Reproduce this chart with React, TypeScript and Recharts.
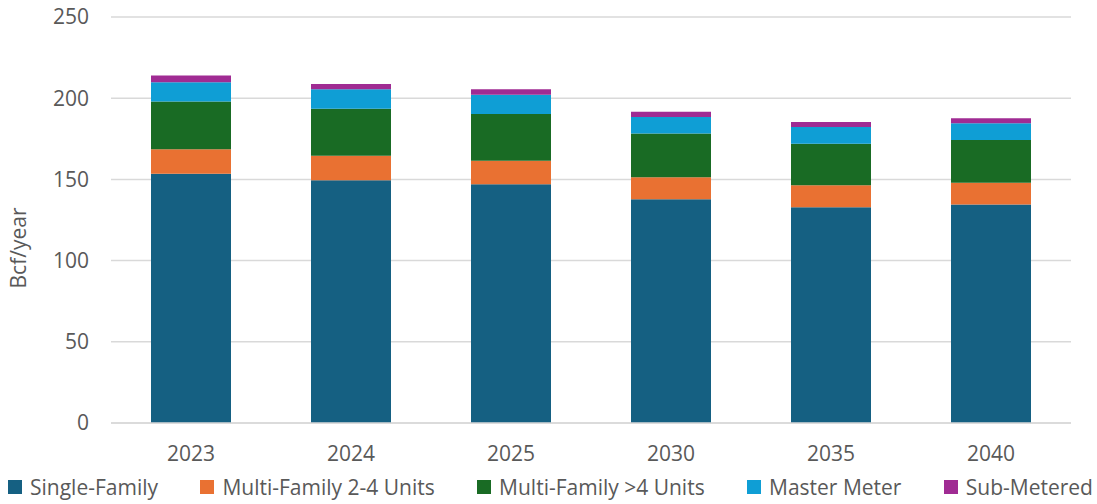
import { BarChart, Bar, XAxis, YAxis, CartesianGrid, Legend } from "recharts";

const YEARS = ["2023", "2024", "2025", "2030", "2035", "2040"];
const SINGLE_FAMILY = [153.5, 149.5, 147, 137.8, 132.8, 134.5];
const MULTI_2_4 = [15, 15, 14.5, 13.5, 13.6, 13.5];
const MULTI_4_PLUS = [29.5, 29, 28.7, 27, 25.5, 26.3];
const MASTER_METER = [11.8, 12, 12, 10.2, 10.3, 10.2];
const SUB_METERED = [4.2, 3.2, 3.3, 3.2, 3.1, 3.1];
const Y_TICKS = [0, 50, 100, 150, 200, 250];

const SERIES = [
  { key: "sf", name: "Single-Family", color: "#156082" },
  { key: "mf24", name: "Multi-Family 2-4 Units", color: "#E97132" },
  { key: "mf4", name: "Multi-Family >4 Units", color: "#196B24" },
  { key: "mm", name: "Master Meter", color: "#0F9ED5" },
  { key: "sub", name: "Sub-Metered", color: "#A02B93" },
];

const data = YEARS.map((year, i) => ({
  year,
  sf: SINGLE_FAMILY[i],
  mf24: MULTI_2_4[i],
  mf4: MULTI_4_PLUS[i],
  mm: MASTER_METER[i],
  sub: SUB_METERED[i],
}));

const FONT = "'Open Sans', sans-serif";
const TEXT = "#595959";

function LegendRow() {
  return (
    <div style={{ display: "flex", justifyContent: "space-between", paddingTop: 3, paddingLeft: 8, paddingRight: 4, fontFamily: FONT, fontSize: 21, color: TEXT, lineHeight: "26px" }}>
      {SERIES.map(s => (
        <div key={s.key} style={{ display: "flex", alignItems: "center", gap: 8 }}>
          <div style={{ width: 14, height: 14, backgroundColor: s.color }} />
          <span>{s.name}</span>
        </div>
      ))}
    </div>
  );
}

export default function App() {
  return (
    <div style={{ width: 1097, height: 504, background: "#fff" }}>
      <style>{`body{margin:0}`}</style>
      <BarChart width={1097} height={504} data={data} margin={{ top: 17, right: 26, left: 0, bottom: 4 }} barCategoryGap="25%">
        <CartesianGrid vertical={false} stroke="#d9d9d9" strokeWidth={1.5} />
        <XAxis
          dataKey="year"
          axisLine={{ stroke: "#d9d9d9", strokeWidth: 1.5 }}
          tickLine={false}
          tickSize={0}
          tickMargin={23}
          height={48}
          tick={{ fill: TEXT, fontSize: 21, fontFamily: FONT }}
        />
        <YAxis
          width={111}
          domain={[0, 250]}
          ticks={Y_TICKS}
          axisLine={false}
          tickLine={false}
          tickSize={0}
          tickMargin={22}
          tick={{ fill: TEXT, fontSize: 21, fontFamily: FONT }}
          label={{
            content: () => (
              <text x={20} y={248} transform="rotate(-90 20 248)" textAnchor="middle" dominantBaseline="middle" fill={TEXT} fontSize={21} fontFamily={FONT}>
                Bcf/year
              </text>
            ),
          }}
        />
        <Legend verticalAlign="bottom" wrapperStyle={{ left: 0, width: 1097 }} content={() => <LegendRow />} />
        {SERIES.map(s => (
          <Bar key={s.key} dataKey={s.key} name={s.name} stackId="a" fill={s.color} isAnimationActive={false} />
        ))}
      </BarChart>
    </div>
  );
}
